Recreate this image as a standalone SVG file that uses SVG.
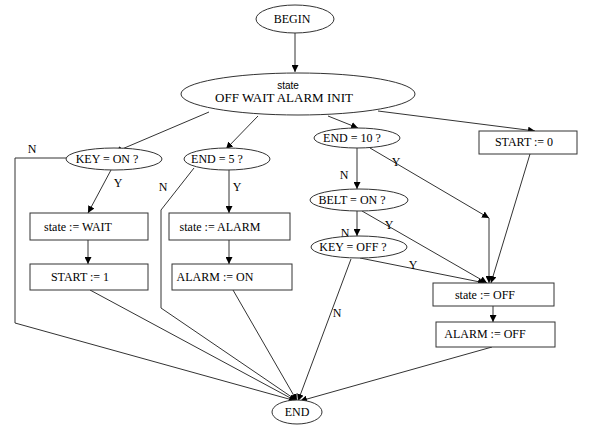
<svg xmlns="http://www.w3.org/2000/svg" width="602" height="427" viewBox="0 0 602 427">
<style>
.n{fill:#fff;stroke:#333;stroke-width:1}
.e{fill:none;stroke:#333;stroke-width:1}
.a{marker-end:url(#ah)}
text{font-family:"Liberation Serif",serif;font-size:12px;fill:#000}
.c{text-anchor:middle}
.s{font-family:"Liberation Sans",sans-serif;font-size:10px}
</style>
<defs>
<marker id="ah" viewBox="0 0 10 10" refX="10" refY="5" markerWidth="7" markerHeight="7" markerUnits="userSpaceOnUse" orient="auto">
<path d="M0,0 L10,5 L0,10 z" fill="#000"/>
</marker>
</defs>
<rect width="602" height="427" fill="#fff"/>
<g id="connectors">
<path class="e a" d="M295,33 L295,72"/>
<path class="e a" d="M209,112 L115,152"/>
<path class="e a" d="M258,116 L226,149"/>
<path class="e a" d="M328,116 L358,128"/>
<path class="e a" d="M378,111 L535,131"/>
<path class="e" d="M66,158 L15,158 L15,323 L296,401"/>
<path class="e a" d="M296,400 L297,401"/>
<path class="e a" d="M111,170 L88,213"/>
<path class="e a" d="M88,240 L88,264"/>
<path class="e a" d="M90,290 L296,401"/>
<path class="e" d="M194,168 L161,210 L161,308 L296,400"/>
<path class="e a" d="M295,400 L297,401"/>
<path class="e a" d="M229,170 L229,213"/>
<path class="e a" d="M229,240 L229,264"/>
<path class="e a" d="M233,290 L297,401"/>
<path class="e a" d="M357,148 L357,189"/>
<path class="e a" d="M370,148 L489,218"/>
<path class="e a" d="M489,218 L489,283"/>
<path class="e a" d="M357,211 L357,236"/>
<path class="e a" d="M362,211 L487,283"/>
<path class="e a" d="M360,258 L485,283"/>
<path class="e a" d="M351,259 L298,401"/>
<path class="e a" d="M530,154 L491,283"/>
<path class="e a" d="M493,306 L493,322"/>
<path class="e a" d="M492,347 L300,401"/>
</g>
<g id="labels">
<text x="32" y="153" class="c">N</text>
<text x="118" y="187" class="c">Y</text>
<text x="163" y="191" class="c">N</text>
<text x="237" y="191" class="c">Y</text>
<text x="396" y="166" class="c">Y</text>
<text x="344" y="179" class="c">N</text>
<text x="389" y="229" class="c">Y</text>
<text x="345" y="237" class="c">N</text>
<text x="413" y="269" class="c">Y</text>
<text x="337" y="317" class="c">N</text>
</g>
<g id="begin"><ellipse class="n" cx="295" cy="19" rx="39" ry="14"/><text x="292" y="23" class="c">BEGIN</text></g>
<g id="state"><ellipse class="n" cx="298" cy="94" rx="117" ry="21"/><text x="288" y="89" class="c s">state</text><text x="284" y="102" class="c" style="font-size:13px">OFF WAIT ALARM INIT</text></g>
<g id="keyon"><ellipse class="n" cx="114" cy="159" rx="48" ry="11"/><text x="107" y="163" class="c">KEY = ON ?</text></g>
<g id="end5"><ellipse class="n" cx="227" cy="159" rx="43" ry="11"/><text x="217" y="163" class="c">END = 5 ?</text></g>
<g id="end10"><ellipse class="n" cx="357" cy="138" rx="43" ry="10"/><text x="352" y="142" class="c">END = 10 ?</text></g>
<g id="start0"><rect class="n" x="479" y="131" width="98" height="23"/><text x="524" y="146" class="c">START := 0</text></g>
<g id="belton"><ellipse class="n" cx="359" cy="200" rx="49" ry="11"/><text x="352" y="204" class="c">BELT = ON ?</text></g>
<g id="keyoff"><ellipse class="n" cx="359" cy="247" rx="48" ry="11"/><text x="353" y="251" class="c">KEY = OFF ?</text></g>
<g id="statewait"><rect class="n" x="30" y="213" width="118" height="27"/><text x="78" y="231" class="c">state := WAIT</text></g>
<g id="statealarm"><rect class="n" x="169" y="213" width="121" height="27"/><text x="220" y="231" class="c">state := ALARM</text></g>
<g id="start1"><rect class="n" x="30" y="264" width="118" height="26"/><text x="80" y="281" class="c">START := 1</text></g>
<g id="alarmon"><rect class="n" x="172" y="264" width="120" height="26"/><text x="215" y="281" class="c">ALARM := ON</text></g>
<g id="stateoff"><rect class="n" x="433" y="283" width="121" height="23"/><text x="485" y="299" class="c">state := OFF</text></g>
<g id="alarmoff"><rect class="n" x="436" y="322" width="119" height="25"/><text x="485" y="338" class="c">ALARM := OFF</text></g>
<g id="end"><ellipse class="n" cx="297" cy="412" rx="25" ry="12"/><text x="297" y="416" class="c">END</text></g>
</svg>
